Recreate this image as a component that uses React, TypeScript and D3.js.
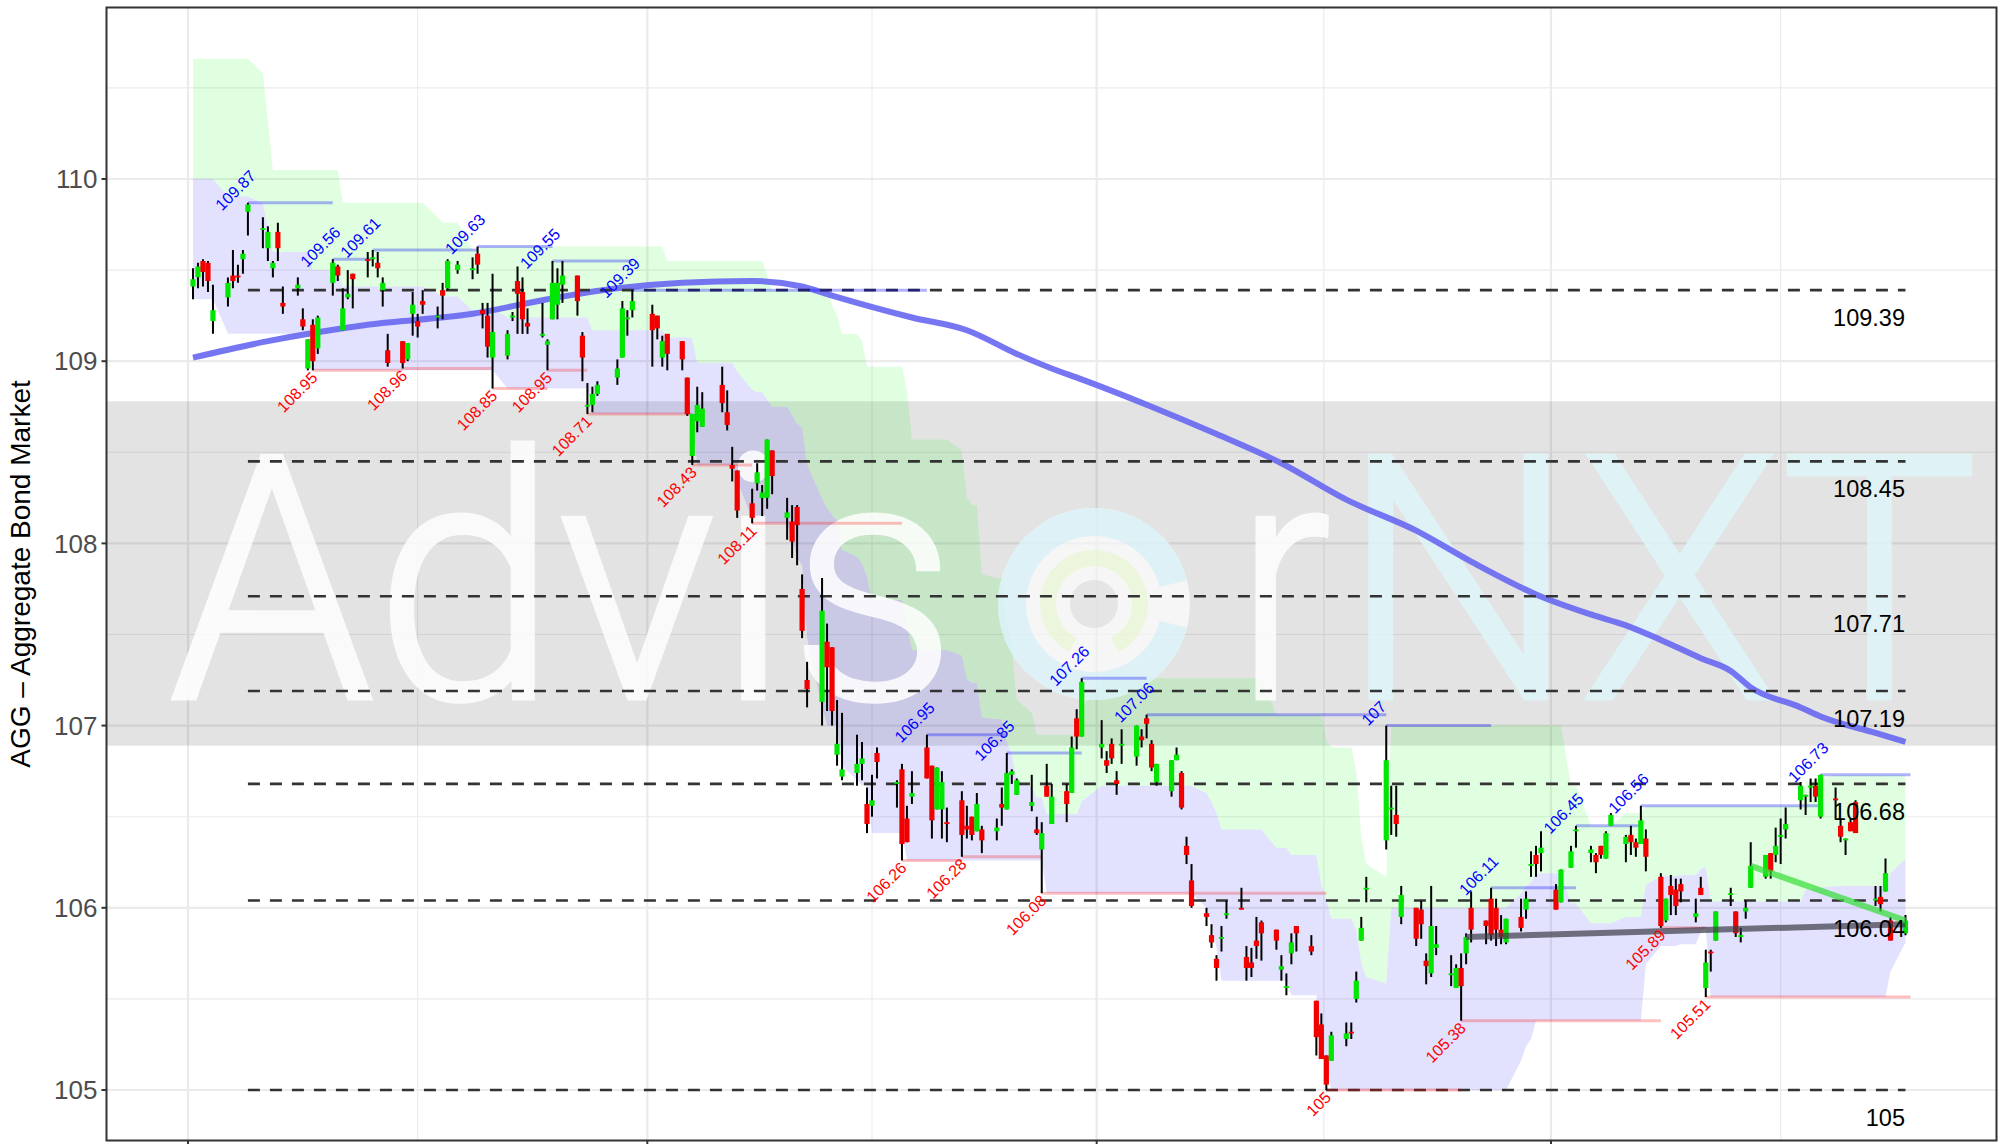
import React from "react";
import * as d3 from "d3";

const WIDTH = 2007;
const HEIGHT = 1144;

// ---- trading days (AGG daily candles) ----
const dates = [
  "2017-10-02","2017-10-03","2017-10-04","2017-10-05","2017-10-06",
  "2017-10-09","2017-10-10","2017-10-11","2017-10-12","2017-10-13",
  "2017-10-16","2017-10-17","2017-10-18","2017-10-19","2017-10-20",
  "2017-10-23","2017-10-24","2017-10-25","2017-10-26","2017-10-27",
  "2017-10-30","2017-10-31","2017-11-01","2017-11-02","2017-11-03",
  "2017-11-06","2017-11-07","2017-11-08","2017-11-09","2017-11-10",
  "2017-11-13","2017-11-14","2017-11-15","2017-11-16","2017-11-17",
  "2017-11-20","2017-11-21","2017-11-22","2017-11-24",
  "2017-11-27","2017-11-28","2017-11-29","2017-11-30","2017-12-01",
  "2017-12-04","2017-12-05","2017-12-06","2017-12-07","2017-12-08",
  "2017-12-11","2017-12-12","2017-12-13","2017-12-14","2017-12-15",
  "2017-12-18","2017-12-19","2017-12-20","2017-12-21","2017-12-22",
  "2017-12-26","2017-12-27","2017-12-28","2017-12-29",
  "2018-01-02","2018-01-03","2018-01-04","2018-01-05",
  "2018-01-08","2018-01-09","2018-01-10","2018-01-11","2018-01-12",
  "2018-01-16","2018-01-17","2018-01-18","2018-01-19",
  "2018-01-22","2018-01-23","2018-01-24","2018-01-25","2018-01-26",
  "2018-01-29","2018-01-30","2018-01-31","2018-02-01","2018-02-02",
  "2018-02-05","2018-02-06","2018-02-07","2018-02-08","2018-02-09",
  "2018-02-12","2018-02-13","2018-02-14","2018-02-15","2018-02-16",
  "2018-02-20","2018-02-21","2018-02-22","2018-02-23",
  "2018-02-26","2018-02-27","2018-02-28","2018-03-01","2018-03-02",
  "2018-03-05","2018-03-06","2018-03-07","2018-03-08","2018-03-09",
  "2018-03-12","2018-03-13","2018-03-14","2018-03-15","2018-03-16",
  "2018-03-19","2018-03-20","2018-03-21","2018-03-22","2018-03-23",
  "2018-03-26","2018-03-27","2018-03-28","2018-03-29",
  "2018-04-02","2018-04-03","2018-04-04","2018-04-05","2018-04-06",
  "2018-04-09","2018-04-10","2018-04-11","2018-04-12","2018-04-13",
  "2018-04-16","2018-04-17","2018-04-18","2018-04-19","2018-04-20",
  "2018-04-23","2018-04-24","2018-04-25","2018-04-26","2018-04-27",
  "2018-04-30","2018-05-01","2018-05-02","2018-05-03","2018-05-04",
  "2018-05-07","2018-05-08","2018-05-09","2018-05-10","2018-05-11",
  "2018-05-14","2018-05-15","2018-05-16","2018-05-17","2018-05-18",
  "2018-05-21","2018-05-22","2018-05-23","2018-05-24","2018-05-25",
  "2018-05-29","2018-05-30","2018-05-31","2018-06-01",
  "2018-06-04","2018-06-05","2018-06-06","2018-06-07","2018-06-08",
  "2018-06-11","2018-06-12","2018-06-13","2018-06-14","2018-06-15",
  "2018-06-18","2018-06-19","2018-06-20","2018-06-21","2018-06-22",
  "2018-06-25","2018-06-26","2018-06-27","2018-06-28","2018-06-29",
  "2018-07-02","2018-07-03","2018-07-05","2018-07-06",
  "2018-07-09","2018-07-10","2018-07-11","2018-07-12","2018-07-13",
  "2018-07-16","2018-07-17","2018-07-18","2018-07-19","2018-07-20",
  "2018-07-23","2018-07-24","2018-07-25","2018-07-26","2018-07-27",
  "2018-07-30","2018-07-31","2018-08-01","2018-08-02","2018-08-03",
  "2018-08-06","2018-08-07","2018-08-08","2018-08-09","2018-08-10",
  "2018-08-13","2018-08-14","2018-08-15","2018-08-16","2018-08-17",
  "2018-08-20","2018-08-21","2018-08-22","2018-08-23","2018-08-24",
  "2018-08-27","2018-08-28","2018-08-29","2018-08-30","2018-08-31",
  "2018-09-04","2018-09-05","2018-09-06","2018-09-07","2018-09-10",
];

const opens = [
  109.41,109.46,109.55,109.54,109.22,109.35,109.47,109.47,109.56,109.82,
  109.72,109.62,109.51,109.71,109.32,109.40,109.23,108.96,109.20,109.07,
  109.43,109.52,109.17,109.35,109.48,109.56,109.56,109.54,109.39,109.06,
  109.11,109.01,109.26,109.22,109.33,109.24,109.39,109.40,109.50,109.50,
  109.59,109.28,109.25,109.02,109.03,109.24,109.44,109.38,109.21,109.14,
  109.09,109.23,109.31,109.42,109.47,109.14,108.75,108.76,108.82,108.91,
  109.02,109.23,109.28,109.26,109.25,109.02,109.15,109.11,108.91,108.48,
  108.67,108.64,108.87,108.72,108.43,108.40,108.22,108.33,108.25,108.25,
  108.51,108.14,108.12,108.20,107.75,107.25,107.13,107.46,107.43,106.84,
  106.72,106.74,106.79,106.57,106.56,106.85,106.68,106.76,106.49,106.61,
  106.88,106.78,106.54,106.54,106.47,106.59,106.45,106.50,106.42,106.43,
  106.42,106.57,106.54,106.73,106.62,106.56,106.43,106.32,106.67,106.46,
  106.64,106.63,107.04,106.94,106.88,106.81,106.90,106.70,106.89,106.83,
  106.94,107.04,106.90,106.69,106.64,106.81,106.74,106.34,106.15,105.97,
  105.85,105.72,105.83,105.96,106.00,105.73,105.70,105.82,105.92,105.88,
  105.66,105.56,105.75,105.90,105.79,105.49,105.36,105.19,105.16,105.28,
  105.32,105.50,105.82,106.10,106.37,106.54,106.51,105.95,106.00,105.99,
  105.71,105.64,105.78,105.64,105.56,105.67,105.75,106.00,105.93,106.05,
  106.00,105.88,105.81,105.95,105.99,106.23,106.29,106.30,106.10,106.03,
  106.22,106.42,106.30,106.29,106.34,106.27,106.45,106.35,106.40,106.36,
  106.35,106.38,106.17,105.93,106.12,106.10,106.13,105.95,106.11,105.56,
  105.76,105.82,106.08,105.98,105.84,105.98,106.11,106.17,106.30,106.29,
  106.39,106.43,106.59,106.61,106.66,106.67,106.50,106.60,106.45,106.38,
  106.47,106.58,106.04,106.06,106.09,105.93,105.86,
];

const highs = [
  109.51,109.54,109.56,109.55,109.42,109.46,109.61,109.53,109.61,109.87,
  109.79,109.74,109.55,109.76,109.41,109.46,109.29,109.12,109.23,109.25,
  109.56,109.53,109.40,109.50,109.48,109.60,109.61,109.60,109.46,109.15,
  109.11,109.10,109.38,109.26,109.39,109.30,109.43,109.56,109.55,109.57,
  109.63,109.32,109.32,109.48,109.17,109.27,109.52,109.46,109.29,109.32,
  109.12,109.55,109.51,109.55,109.47,109.16,108.88,108.86,108.89,109.01,
  109.33,109.28,109.39,109.31,109.25,109.14,109.15,109.11,108.91,108.71,
  108.86,108.83,108.97,108.84,108.53,108.40,108.30,108.44,108.32,108.57,
  108.51,108.25,108.21,108.21,107.83,107.35,107.81,107.56,107.43,107.14,
  107.07,106.95,106.91,106.66,106.73,106.88,106.70,106.79,106.56,106.75,
  106.95,106.78,106.77,106.75,106.55,106.64,106.56,106.50,106.63,106.45,
  106.49,106.66,106.85,106.76,106.71,106.73,106.50,106.47,106.79,106.68,
  106.68,106.94,107.09,107.26,107.03,106.86,106.93,106.75,106.98,107.00,
  106.98,107.06,106.92,106.79,106.81,106.88,106.75,106.39,106.24,106.00,
  105.91,105.74,105.90,106.04,106.11,105.79,105.78,105.95,105.93,105.88,
  105.74,105.64,105.86,105.90,105.85,105.49,105.42,105.19,105.32,105.37,
  105.37,105.65,105.95,106.17,107.00,106.67,106.67,106.12,106.00,106.04,
  105.75,106.12,105.90,105.74,105.69,105.75,105.86,106.09,105.93,106.11,
  106.05,105.96,105.94,106.05,106.09,106.31,106.34,106.42,106.13,106.21,
  106.34,106.45,106.34,106.30,106.34,106.42,106.52,106.40,106.45,106.38,
  106.56,106.43,106.19,106.05,106.18,106.16,106.16,106.05,106.17,105.77,
  105.77,105.98,106.11,105.98,105.89,106.04,106.36,106.29,106.30,106.44,
  106.49,106.55,106.69,106.62,106.71,106.71,106.73,106.66,106.49,106.38,
  106.49,106.59,106.12,106.12,106.27,105.95,105.96,
];

const lows = [
  109.34,109.40,109.41,109.38,109.15,109.30,109.40,109.43,109.48,109.69,
  109.62,109.55,109.46,109.55,109.26,109.36,109.17,108.95,108.95,109.04,
  109.36,109.44,109.17,109.34,109.29,109.46,109.52,109.46,109.30,108.97,
  108.96,109.00,109.14,109.13,109.26,109.18,109.23,109.39,109.48,109.45,
  109.48,109.18,109.02,108.85,109.01,109.22,109.15,109.15,109.15,109.13,
  108.95,109.23,109.23,109.32,109.25,108.89,108.71,108.72,108.81,108.87,
  109.02,109.14,109.24,108.97,109.12,108.97,108.95,108.95,108.70,108.43,
  108.61,108.64,108.72,108.62,108.34,108.14,108.11,108.29,108.15,108.19,
  108.27,108.02,107.92,107.88,107.48,107.10,107.00,107.08,107.00,106.78,
  106.70,106.67,106.70,106.41,106.50,106.71,106.55,106.26,106.36,106.57,
  106.71,106.38,106.54,106.38,106.36,106.28,106.38,106.37,106.42,106.30,
  106.37,106.45,106.54,106.68,106.62,106.53,106.40,106.08,106.61,106.46,
  106.47,106.63,106.87,106.94,106.82,106.74,106.79,106.62,106.79,106.78,
  106.88,106.93,106.75,106.67,106.61,106.81,106.54,106.24,106.00,105.90,
  105.78,105.60,105.76,105.94,105.99,105.60,105.62,105.72,105.71,105.77,
  105.60,105.52,105.69,105.76,105.74,105.19,105.17,105.00,105.16,105.24,
  105.28,105.48,105.82,106.03,106.32,106.40,106.39,105.91,105.79,105.83,
  105.58,105.62,105.74,105.57,105.56,105.38,105.69,105.81,105.80,105.82,
  105.79,105.80,105.80,105.87,105.94,106.17,106.17,106.20,105.99,106.03,
  106.22,106.33,106.25,106.19,106.27,106.27,106.45,106.25,106.29,106.28,
  106.35,106.20,105.89,105.92,105.96,105.96,106.03,105.92,106.07,105.51,
  105.65,105.82,106.01,105.84,105.81,105.94,106.11,106.16,106.16,106.25,
  106.24,106.38,106.54,106.51,106.58,106.58,106.49,106.49,106.36,106.29,
  106.42,106.41,106.01,105.98,106.09,105.82,105.85,
];

const closes = [
  109.45,109.52,109.49,109.44,109.28,109.43,109.44,109.46,109.59,109.86,
  109.73,109.71,109.54,109.62,109.30,109.42,109.19,109.12,109.00,109.24,
  109.54,109.47,109.29,109.37,109.45,109.55,109.57,109.51,109.43,108.99,
  108.99,109.10,109.31,109.19,109.31,109.25,109.36,109.55,109.53,109.51,
  109.53,109.26,109.08,109.16,109.15,109.25,109.37,109.23,109.19,109.15,
  109.11,109.43,109.43,109.47,109.33,109.02,108.76,108.82,108.87,108.96,
  109.29,109.24,109.33,109.17,109.18,109.11,109.04,109.01,108.71,108.71,
  108.76,108.74,108.77,108.65,108.41,108.18,108.14,108.39,108.28,108.57,
  108.37,108.17,108.01,108.10,107.52,107.20,107.63,107.32,107.08,106.90,
  106.76,106.79,106.82,106.46,106.59,106.80,106.69,106.35,106.36,106.63,
  106.71,106.48,106.77,106.69,106.46,106.40,106.43,106.40,106.57,106.37,
  106.44,106.55,106.74,106.75,106.70,106.58,106.41,106.41,106.61,106.61,
  106.57,106.88,106.94,107.24,106.90,106.78,106.82,106.68,106.90,107.00,
  106.92,107.01,106.77,106.79,106.81,106.84,106.55,106.29,106.01,105.95,
  105.81,105.67,105.84,105.97,105.99,105.67,105.67,105.79,105.86,105.82,
  105.68,105.57,105.81,105.86,105.76,105.29,105.17,105.03,105.30,105.31,
  105.31,105.60,105.89,106.11,106.81,106.55,106.46,106.07,105.83,105.91,
  105.68,105.90,105.80,105.64,105.67,105.57,105.84,105.88,105.90,105.85,
  105.88,105.84,105.94,105.89,106.05,106.24,106.24,106.33,105.99,106.21,
  106.31,106.43,106.32,106.25,106.29,106.41,106.51,106.39,106.36,106.33,
  106.48,106.28,105.90,106.05,106.07,106.01,106.09,105.97,106.07,105.70,
  105.75,105.98,106.08,105.86,105.85,106.00,106.23,106.29,106.20,106.34,
  106.40,106.46,106.67,106.62,106.67,106.61,106.73,106.59,106.39,106.38,
  106.42,106.41,106.05,106.02,106.19,105.82,105.93,
];

// ---- Donchian channel: extremes of the part of the lookback window lying before the first candle ----
const BAND_WINDOW = 25;
const preWindowHigh = [
  110.66,110.66,110.66,110.66,110.66,110.66,110.66,110.66,110.66,110.66,
  110.58,110.32,110.05,110.05,110.05,110.05,110.05,110.05,110.05,110.05,
  110.05,110.05,109.70,109.70,109.70,
];
const preWindowLow = [
  109.34,109.34,109.34,109.34,109.34,109.34,109.34,109.34,109.34,109.34,
  109.34,109.34,109.34,109.34,109.34,109.34,109.34,109.34,109.34,109.34,
  109.34,109.34,109.34,109.34,109.34,
];

// ---- long moving average (blue) ----
const maDates = [
  "2017-10-02","2017-10-17","2017-11-06","2017-11-27","2017-12-12","2017-12-26",
  "2018-01-08","2018-01-22","2018-02-01","2018-02-07","2018-02-16","2018-02-23",
  "2018-03-06","2018-03-16","2018-03-23","2018-03-29","2018-04-12","2018-04-25",
  "2018-05-08","2018-05-21","2018-06-04","2018-06-15","2018-06-28","2018-07-09",
  "2018-07-16","2018-07-23","2018-07-31","2018-08-06","2018-08-10","2018-08-20",
  "2018-08-24","2018-09-04","2018-09-10",
];
const maValues = [
  109.02,109.11,109.20,109.26,109.34,109.40,
  109.43,109.44,109.41,109.36,109.29,109.24,
  109.17,109.04,108.96,108.90,108.75,108.60,
  108.44,108.24,108.07,107.90,107.72,107.61,
  107.55,107.47,107.37,107.30,107.21,107.10,
  107.05,106.96,106.91,
];

// ---- swing highs / lows ----
const swingHighDates = [
  "2017-10-13","2017-10-30","2017-11-07","2017-11-28","2017-12-13","2017-12-29",
  "2018-02-26","2018-03-14","2018-03-29","2018-04-11","2018-05-29","2018-06-19",
  "2018-07-06","2018-07-19","2018-08-24",
];
const swingHighValues = [
  109.87,109.56,109.61,109.63,109.55,109.39,
  106.95,106.85,107.26,107.06,107,106.11,
  106.45,106.56,106.73,
];
const swingLowDates = [
  "2017-10-26","2017-11-13","2017-12-01","2017-12-12","2017-12-20","2018-01-10",
  "2018-01-22","2018-02-21","2018-03-05","2018-03-21","2018-05-17","2018-06-13",
  "2018-07-23","2018-08-01",
];
const swingLowValues = [
  108.95,108.96,108.85,108.95,108.71,108.43,
  108.11,106.26,106.28,106.08,105,105.38,
  105.89,105.51,
];

// ---- horizontal levels ----
const levelValues = [109.39, 108.45, 107.71, 107.19, 106.68, 106.04, 105];
const levelStartDate = "2017-10-13";
const zoneLow = 106.89;
const zoneHigh = 108.78;

// ---- trend lines ----
const greyTrendDates = ["2018-06-14", "2018-09-10"];
const greyTrendValues = [105.84, 105.91];
const greenTrendDates = ["2018-08-10", "2018-09-10"];
const greenTrendValues = [106.23, 105.93];

// ---- axes ----
const yTicks = [105, 106, 107, 108, 109, 110];
const yMinorTicks = [105.5, 106.5, 107.5, 108.5, 109.5, 110.5];
const xBreaks = ["2017-10-01", "2018-01-01", "2018-04-01", "2018-07-01"];
const xMinorBreaks = ["2017-11-16", "2018-02-15", "2018-05-16T12:00", "2018-08-16"];

const yAxisTitle = "AGG \u2013 Aggregate Bond Market";

const P = { left: 106.5, top: 7.5, right: 1996.5, bottom: 1140.5 };
const FONT = "'Liberation Sans', Arial, Helvetica, sans-serif";
const WM_FONT = "Roboto, 'Open Sans', sans-serif";

export default function App() {
  const parse = (s: string) => (s.length > 10 ? d3.utcParse("%Y-%m-%dT%H:%M")(s)! : d3.utcParse("%Y-%m-%d")(s)!);
  const x = d3.scaleUtc().domain([parse("2017-10-01"), parse("2018-07-01")]).range([188, 1551]);
  const y = d3.scaleLinear().domain([105, 110]).range([1090, 179]);

  const xs = dates.map((d) => x(parse(d)));
  const idx = d3.range(dates.length);

  const upper = idx.map((i) => {
    const vals = highs.slice(Math.max(0, i - BAND_WINDOW), i);
    if (i < BAND_WINDOW) vals.push(preWindowHigh[i]);
    return d3.max(vals) as number;
  });
  const lower = idx.map((i) => {
    const vals = lows.slice(Math.max(0, i - BAND_WINDOW), i);
    if (i < BAND_WINDOW) vals.push(preWindowLow[i]);
    return d3.min(vals) as number;
  });
  const mid = idx.map((i) => (upper[i] + lower[i]) / 2);

  const greenArea = d3.area<number>().x((i) => xs[i]).y0((i) => y(mid[i])).y1((i) => y(upper[i]))(idx) || "";
  const purpleArea = d3.area<number>().x((i) => xs[i]).y0((i) => y(lower[i])).y1((i) => y(mid[i]))(idx) || "";

  const maPath =
    d3
      .line<number>()
      .x((i) => x(parse(maDates[i])))
      .y((i) => y(maValues[i]))
      .curve(d3.curveMonotoneX)(d3.range(maDates.length)) || "";

  const lastX = xs[xs.length - 1];
  const levelX0 = x(parse(levelStartDate));

  const swingHighSegs = swingHighDates.map((d, i) => ({
    x0: x(parse(d)),
    x1: i + 1 < swingHighDates.length ? x(parse(swingHighDates[i + 1])) : lastX + 5,
    v: swingHighValues[i],
  }));
  const swingLowSegs = swingLowDates.map((d, i) => ({
    x0: x(parse(d)),
    x1: i + 1 < swingLowDates.length ? x(parse(swingLowDates[i + 1])) : lastX + 5,
    v: swingLowValues[i],
  }));

  const logoX = 1094;
  const logoY = 604;
  const arc = d3.arc();
  const outerRing = arc({ innerRadius: 68, outerRadius: 96, startAngle: 0.58 * Math.PI, endAngle: 2.42 * Math.PI }) || "";
  const midRing = arc({ innerRadius: 38, outerRadius: 54, startAngle: -0.85 * Math.PI, endAngle: 0.85 * Math.PI }) || "";

  return (
    <svg
      width={WIDTH}
      height={HEIGHT}
      viewBox={`0 0 ${WIDTH} ${HEIGHT}`}
      style={{ position: "absolute", left: 0, top: 0, background: "#fff" }}
      fontFamily={FONT}
    >
      <defs>
        <clipPath id="panel">
          <rect x={P.left} y={P.top} width={P.right - P.left} height={P.bottom - P.top} />
        </clipPath>
      </defs>
      <rect x={0} y={0} width={WIDTH} height={HEIGHT} fill="#fff" />

      <g clipPath="url(#panel)">
        {/* grid */}
        {yMinorTicks.map((v) => (
          <line key={"ym" + v} x1={P.left} x2={P.right} y1={y(v)} y2={y(v)} stroke="#ebebeb" strokeWidth={1.1} />
        ))}
        {xMinorBreaks.map((d) => (
          <line key={"xm" + d} x1={x(parse(d))} x2={x(parse(d))} y1={P.top} y2={P.bottom} stroke="#ebebeb" strokeWidth={1.1} />
        ))}
        {yTicks.map((v) => (
          <line key={"yM" + v} x1={P.left} x2={P.right} y1={y(v)} y2={y(v)} stroke="#ebebeb" strokeWidth={2.2} />
        ))}
        {xBreaks.map((d) => (
          <line key={"xM" + d} x1={x(parse(d))} x2={x(parse(d))} y1={P.top} y2={P.bottom} stroke="#ebebeb" strokeWidth={2.2} />
        ))}

        {/* grey zone */}
        <rect x={P.left} width={P.right - P.left} y={y(zoneHigh)} height={y(zoneLow) - y(zoneHigh)} fill="#000" fillOpacity={0.108} />

        {/* channel */}
        <path d={greenArea} fill="#00ff00" fillOpacity={0.12} />
        <path d={purpleArea} fill="#0000ff" fillOpacity={0.115} />

        {/* watermark */}
        <g opacity={0.85}>
          <text x={169} y={698} fontFamily={WM_FONT} fontWeight={300} fontSize={340} fill="#ffffff" stroke="#ffffff" strokeWidth={5} textLength={788} lengthAdjust="spacingAndGlyphs">Advis</text>
          <text x={1236} y={698} fontFamily={WM_FONT} fontWeight={300} fontSize={340} fill="#ffffff" stroke="#ffffff" strokeWidth={5} textLength={95} lengthAdjust="spacingAndGlyphs">r</text>
          <text x={1341} y={698} fontFamily={WM_FONT} fontWeight={300} fontSize={340} fill="#dff6fb" stroke="#dff6fb" strokeWidth={5} textLength={637} lengthAdjust="spacingAndGlyphs">NXT</text>
          <g transform={`translate(${logoX},${logoY})`}>
            <circle r={96} fill="#ffffff" opacity={0.8} />
            <path d={outerRing} fill="#dcf4fa" />
            <path d={midRing} fill="#eefadc" />
            <circle r={24} fill="#e6e6e6" />
          </g>
        </g>

        {/* moving average */}
        <path d={maPath} fill="none" stroke="#6a6af2" strokeOpacity={0.92} strokeWidth={6} strokeLinejoin="round" />

        {/* levels */}
        {levelValues.map((v) => (
          <line key={"lv" + v} x1={levelX0} x2={lastX} y1={y(v)} y2={y(v)} stroke="#333" strokeWidth={2.6} strokeDasharray="12 10" />
        ))}

        {/* swing lines */}
        {swingHighSegs.map((s, i) => (
          <line key={"sh" + i} x1={s.x0} x2={s.x1} y1={y(s.v)} y2={y(s.v)} stroke="#0000ff" strokeOpacity={0.3} strokeWidth={3} />
        ))}
        {swingLowSegs.map((s, i) => (
          <line key={"sl" + i} x1={s.x0} x2={s.x1} y1={y(s.v)} y2={y(s.v)} stroke="#ff0000" strokeOpacity={0.25} strokeWidth={3} />
        ))}

        {/* candles */}
        {idx.map((i) => {
          const o = opens[i];
          const c = closes[i];
          const up = c >= o;
          const top = y(Math.max(o, c));
          const bot = y(Math.min(o, c));
          return (
            <g key={"c" + i}>
              <line x1={xs[i]} x2={xs[i]} y1={y(highs[i])} y2={y(lows[i])} stroke="#000" strokeWidth={2} />
              <rect x={xs[i] - 2.6} width={5.2} y={top} height={Math.max(1.8, bot - top)} fill={up ? "#00e600" : "#f20000"} />
            </g>
          );
        })}

        {/* trend lines */}
        <line x1={x(parse(greyTrendDates[0]))} x2={x(parse(greyTrendDates[1]))} y1={y(greyTrendValues[0])} y2={y(greyTrendValues[1])} stroke="#3c3c46" strokeOpacity={0.7} strokeWidth={6} />
        <line x1={x(parse(greenTrendDates[0]))} x2={x(parse(greenTrendDates[1]))} y1={y(greenTrendValues[0])} y2={y(greenTrendValues[1])} stroke="#33dd33" strokeOpacity={0.7} strokeWidth={6} />

        {/* swing labels */}
        {swingHighDates.map((d, i) => (
          <text key={"th" + i} transform={`translate(${x(parse(d))},${y(swingHighValues[i])}) rotate(-45)`} textAnchor="middle" dy={-12} fontSize={16} fill="#0000ff">
            {String(swingHighValues[i])}
          </text>
        ))}
        {swingLowDates.map((d, i) => (
          <text key={"tl" + i} transform={`translate(${x(parse(d))},${y(swingLowValues[i])}) rotate(-45)`} textAnchor="end" dx={-2} dy={10} fontSize={16} fill="#ff0000">
            {String(swingLowValues[i])}
          </text>
        ))}

        {/* level labels */}
        {levelValues.map((v) => (
          <text key={"lt" + v} x={1905} y={y(v) + 36} textAnchor="end" fontSize={23.5} fill="#000">
            {String(v)}
          </text>
        ))}
      </g>

      {/* panel border */}
      <rect x={P.left} y={P.top} width={P.right - P.left} height={P.bottom - P.top} fill="none" stroke="#333" strokeWidth={2} />

      {/* y axis */}
      {yTicks.map((v) => (
        <g key={"yt" + v}>
          <line x1={P.left - 5} x2={P.left} y1={y(v)} y2={y(v)} stroke="#333" strokeWidth={2} />
          <text x={P.left - 9} y={y(v)} dy="0.35em" textAnchor="end" fontSize={26} fill="#4d4d4d">
            {String(v)}
          </text>
        </g>
      ))}
      {xBreaks.map((d) => (
        <line key={"xt" + d} x1={x(parse(d))} x2={x(parse(d))} y1={P.bottom} y2={P.bottom + 5} stroke="#333" strokeWidth={2} />
      ))}
      <text transform={`translate(30,${(P.top + P.bottom) / 2}) rotate(-90)`} textAnchor="middle" fontSize={28} fill="#000">
        {yAxisTitle}
      </text>
    </svg>
  );
}
